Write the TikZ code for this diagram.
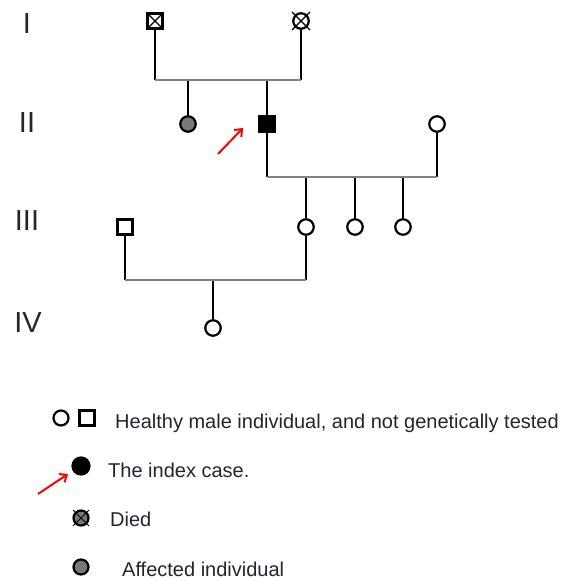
\documentclass[tikz,border=0pt]{standalone}
\usepackage{fontspec}
\setmainfont{Liberation Sans}
\usetikzlibrary{arrows.meta}
\definecolor{txt}{RGB}{36,36,50}
\definecolor{hgray}{RGB}{130,130,130}
\definecolor{affgray}{RGB}{120,120,120}
\begin{document}
\begin{tikzpicture}[x=1pt,y=-1pt,
  male/.style={draw=black,line width=2.2pt,fill=white,minimum size=15pt,inner sep=0pt,rectangle},
  female/.style={draw=black,line width=2.2pt,fill=white,minimum size=15.5pt,inner sep=0pt,circle},
  vline/.style={draw=black,line width=2.2pt},
  hline/.style={draw=hgray,line width=2.2pt},
  gen/.style={font=\fontsize{29}{29}\selectfont,text=txt,anchor=center},
  leg/.style={font=\fontsize{20}{20}\selectfont,text=txt,anchor=base west,inner sep=0pt},
  redarrow/.style={draw=red,line width=2pt,-{Straight Barb[length=6pt,width=10pt]}}
]
\useasboundingbox (0,0) rectangle (571,580);

% generation labels
\node[gen] (gI) at (27,24) {I};
\node[gen] (gII) at (27,123) {II};
\node[gen] (gIII) at (27,221) {III};
\node[gen] (gIV) at (28,323) {IV};

% generation I
\node[male] (I1) at (155,21) {};
\draw[line width=1.2pt] (I1.north west) -- (I1.south east) (I1.north east) -- (I1.south west);
\node[female] (I2) at (301,21) {};
\draw[line width=1.2pt] (I2.center) ++(-9,-9) -- ++(18,18) (I2.center) ++(9,-9) -- ++(-18,18);

\coordinate (m1) at (155,80);
\coordinate (m2) at (301,80);

% generation II
\node[female,fill=affgray] (II1) at (188,124) {};
\node[male,fill=black] (II2) at (267,124) {};
\node[female] (II3) at (437,124) {};

\coordinate (m3) at (267,177);
\coordinate (m4) at (437,177);

% generation III
\node[male] (III1) at (125,227) {};
\node[female] (III2) at (306,227) {};
\node[female] (III3) at (355,227) {};
\node[female] (III4) at (403,227) {};

\coordinate (m5) at (125,280);
\coordinate (m6) at (306,280);

% generation IV
\node[female] (IV1) at (213,328) {};

% connectors I
\draw[vline] (I1.south) -- (m1);
\draw[vline] (I2.south) -- (m2);
\draw[vline] (II1.north) -- (II1.north |- m1);
\draw[vline] (II2.north) -- (II2.north |- m1);
\draw[hline] (m1) -- (m2);

% connectors II
\draw[vline] (II2.south) -- (m3);
\draw[vline] (II3.south) -- (m4);
\draw[vline] (III2.north) -- (III2.north |- m3);
\draw[vline] (III3.north) -- (III3.north |- m3);
\draw[vline] (III4.north) -- (III4.north |- m3);
\draw[hline] (m3) -- (m4);

% connectors III
\draw[vline] (III1.south) -- (m5);
\draw[vline] (III2.south) -- (m6);
\draw[vline] (IV1.north) -- (IV1.north |- m5);
\draw[hline] (m5) -- (m6);

% proband arrow
\coordinate (pa) at (218,154);
\coordinate (pb) at (243,128);
\draw[redarrow] (pa) -- (pb);

% legend
\node[female,minimum size=15pt] (L1a) at (61,418) {};
\node[male] (L1b) at (87,418) {};
\node[leg] (T1) at (115,428) {Healthy male individual, and not genetically tested};

\node[female,fill=black,minimum size=17pt] (L2) at (81,466) {};
\node[leg] (T2) at (108,477) {The index case.};
\coordinate (la) at (38,494);
\coordinate (lb) at (68,474);
\draw[redarrow] (la) -- (lb);

\node[female,fill=affgray,minimum size=15pt] (L3) at (81,518) {};
\draw[line width=1pt] (L3.center) ++(-8,-8) -- ++(16,16) (L3.center) ++(8,-8) -- ++(-16,16);
\node[leg] (T3) at (110,526) {Died};

\node[female,fill=affgray,minimum size=15pt] (L4) at (81,567) {};
\node[leg] (T4) at (122,576) {Affected individual};
\end{tikzpicture}
\end{document}
